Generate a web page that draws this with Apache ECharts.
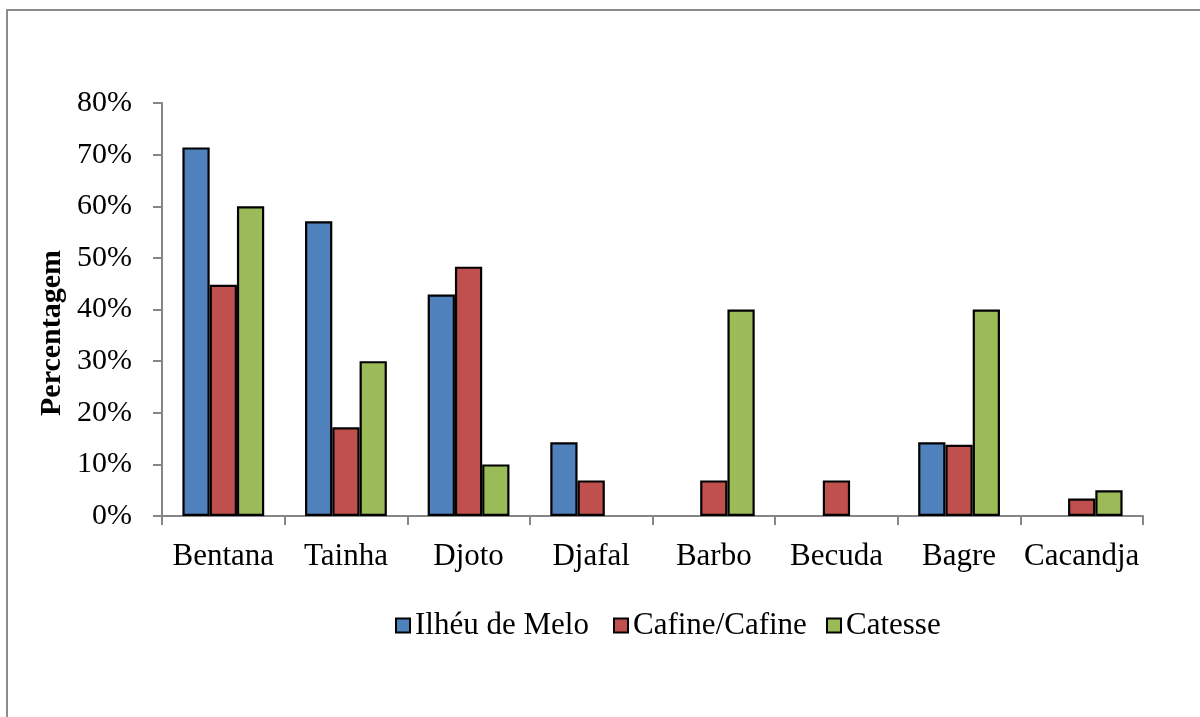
<!DOCTYPE html>
<html>
<head>
<meta charset="utf-8">
<script src="https://cdn.jsdelivr.net/npm/echarts@6/dist/echarts.min.js"></script>
<style>
  html, body { margin: 0; padding: 0; background: #fff; }
  #chart { width: 1200px; height: 717px; }
</style>
</head>
<body>
<div id="chart"></div>
<script>
// espécies capturadas
var categories = ['Bentana', 'Tainha', 'Djoto', 'Djafal', 'Barbo', 'Becuda', 'Bagre', 'Cacandja'];

// percentagens por local (null = sem barra)
var ilheuDeMelo = [71.4, 57.1, 42.9, 14.3, null, null, 14.3, null];
var cafine = [44.8, 17.2, 48.3, 6.9, 6.9, 6.9, 13.8, 3.4];
var catesse = [60, 30, 10, null, 40, null, 40, 5];

var seriesNames = ['Ilhéu de Melo', 'Cafine/Cafine', 'Catesse'];
var yTicks = { min: 0, max: 80, step: 10 };

var serif = "'Liberation Serif', 'Times New Roman', serif";
var colors = ['#4F81BD', '#C0504D', '#9BBB59'];
var legendLeft = [390, 608, 821];

function barSeries(name, data, i) {
    return {
        name: name,
        type: 'bar',
        data: data,
        barGap: '0%',
        barCategoryGap: '33.3%',
        itemStyle: { color: colors[i], borderColor: '#000', borderWidth: 2.2 },
        emphasis: { disabled: true }
    };
}

// uma legenda por item, para acertar as posições
var legends = seriesNames.map(function (n, i) {
    return {
        left: legendLeft[i],
        top: 605,
        itemWidth: 14,
        itemHeight: 14,
        icon: 'rect',
        textStyle: { fontFamily: serif, fontSize: 31, color: '#000' },
        data: [{ name: n, itemStyle: { color: colors[i], borderColor: '#000', borderWidth: 2 } }]
    };
});

var chart = echarts.init(document.getElementById('chart'));
chart.setOption({
    animation: false,
    grid: { left: 162, right: 57, top: 103, bottom: 201 },
    legend: legends,
    xAxis: {
        type: 'category',
        data: categories,
        axisLine: { lineStyle: { color: '#868686', width: 2 } },
        axisTick: { show: true, length: 9, lineStyle: { color: '#868686', width: 2 } },
        axisLabel: { fontFamily: serif, fontSize: 31, color: '#000', margin: 25, interval: 0 },
        splitLine: { show: false }
    },
    yAxis: {
        type: 'value',
        min: yTicks.min,
        max: yTicks.max,
        interval: yTicks.step,
        axisLine: { show: true, lineStyle: { color: '#868686', width: 2 } },
        axisTick: { show: true, length: 9, lineStyle: { color: '#868686', width: 2 } },
        axisLabel: { fontFamily: serif, fontSize: 30, color: '#000', margin: 30, formatter: '{value}%' },
        splitLine: { show: false }
    },
    graphic: [
        {
            type: 'rect',
            shape: { x: 7, y: 10, width: 1400, height: 900 },
            style: { fill: 'none', stroke: '#8c8c8c', lineWidth: 2 },
            silent: true
        },
        {
            type: 'text',
            x: 52,
            y: 333,
            rotation: Math.PI / 2,
            style: {
                text: 'Percentagem',
                font: 'bold 30px ' + serif,
                fill: '#000',
                align: 'center',
                verticalAlign: 'middle'
            }
        }
    ],
    series: [
        barSeries(seriesNames[0], ilheuDeMelo, 0),
        barSeries(seriesNames[1], cafine, 1),
        barSeries(seriesNames[2], catesse, 2)
    ]
});
</script>
</body>
</html>
